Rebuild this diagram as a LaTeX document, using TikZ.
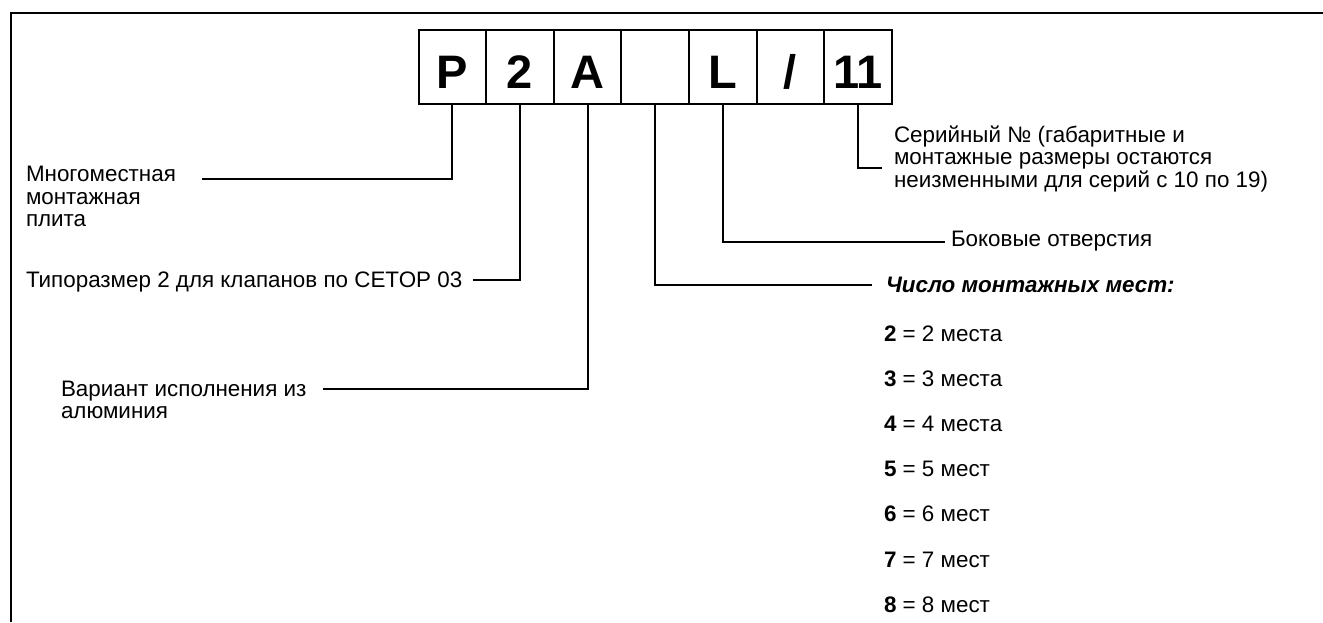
\documentclass[tikz,border=0pt]{standalone}
\usepackage{fontspec}
\setmainfont{Liberation Sans}
\usetikzlibrary{positioning}

\begin{document}
\begin{tikzpicture}[x=1pt, y=-1pt, line width=2pt,
  cell/.style={draw, outer sep=0pt, inner sep=0pt, minimum width=67.6pt,
    minimum height=74pt, text height=42pt, text depth=0pt,
    font=\fontsize{47}{47}\selectfont\bfseries},
  lbl/.style={inner sep=0pt, anchor=base west, align=left,
    font=\fontsize{22.4}{22.5}\selectfont}]
\useasboundingbox (0,0) rectangle (1323,622);

\def\top{30}
\def\dy{45.2}

\draw (11,622) -- (11,13) -- (1323,13);

\node[cell, anchor=north west] (bP) at (418.5,\top) {P};
\node[cell, right=0pt of bP] (b2) {2};
\node[cell, right=0pt of b2] (bA) {A};
\node[cell, right=0pt of bA] (bN) {};
\node[cell, right=0pt of bN] (bL) {L};
\node[cell, right=0pt of bL] (bS) {/};
\node[cell, right=0pt of bS] (b11) {11};

\node[lbl] (plate) at (25,226.5) {Многоместная\\монтажная\\плита};
\node[lbl] (size) at (25,287) {Типоразмер 2 для клапанов по CETOP 03};
\node[lbl] (alu) at (60,418.5) {Вариант исполнения из\\алюминия};
\node[lbl] (serial) at (893,187) {Серийный № (габаритные и\\монтажные размеры остаются\\неизменными для серий с 10 по 19)};
\node[lbl] (side) at (950,246) {Боковые отверстия};
\node[lbl, font=\fontsize{22.4}{22.5}\selectfont\bfseries\itshape] (count) at (885,292) {Число монтажных мест:};

\foreach \n/\w [count=\i] in {2/места,3/места,4/места,5/мест,6/мест,7/мест,8/мест}
  \node[lbl] (n\n) at (883,{341+\dy*(\i-1)}) {\textbf{\n} = \n\ \w};

\coordinate (eP) at (202,179);
\coordinate (e2) at (473,280);
\coordinate (eA) at (323,389);
\coordinate (eN) at (872,285);
\coordinate (eL) at (945,242);
\coordinate (e11) at (882,168);

\draw (bP.south) |- (eP);
\draw (b2.south) |- (e2);
\draw (bA.south) |- (eA);
\draw (bN.south) |- (eN);
\draw (bL.south) |- (eL);
\draw (b11.south) |- (e11);

\end{tikzpicture}
\end{document}
